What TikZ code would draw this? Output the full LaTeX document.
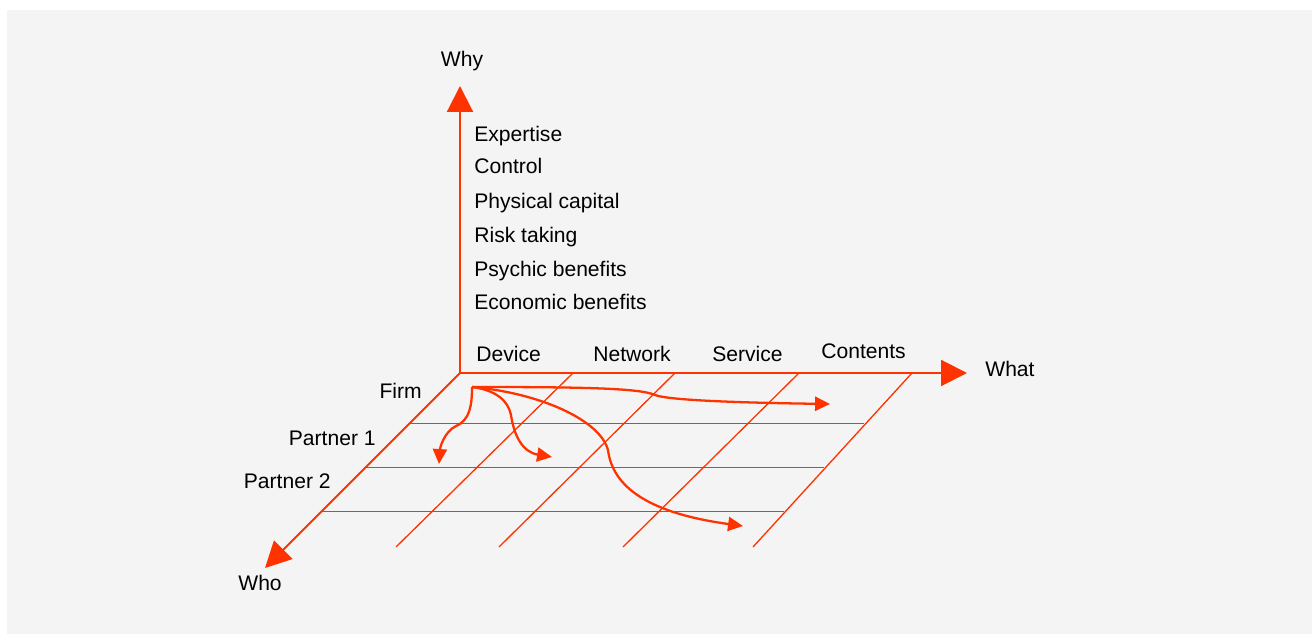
\documentclass[tikz,border=0pt]{standalone}
\usepackage{fontspec}
\setmainfont{Liberation Sans}
\usepackage{xcolor}
\usetikzlibrary{arrows.meta}
\definecolor{axisRed}{RGB}{255, 51, 0}
\definecolor{panelGray}{RGB}{244, 244, 244}

\begin{document}
\begin{tikzpicture}[x=0.02cm, y=-0.02cm, font=\fontsize{12}{14}\selectfont,
    axis/.style={draw=axisRed, line width=1.2pt, -{Triangle[length=14.7pt, width=14.7pt]}},
    path/.style={draw=axisRed, line width=1.3pt, -{Triangle[length=8.5pt, width=8pt]}},
    floorline/.style={draw=axisRed, line width=0.75pt},
    label/.style={inner sep=0pt, anchor=base west}]
    % Background panel
    \useasboundingbox (0,0) rectangle (1316,634);
    \fill[white] (0,0) rectangle (1316,634);
    \fill[panelGray] (7,10) rectangle (1312,634);

    % Axes
    \coordinate (O) at (460,373);
    \coordinate (whyTip) at (460,86);
    \coordinate (whatTip) at (967,373);
    \coordinate (whoTip) at (265,568);
    \node[inner sep=0pt, anchor=base] (why) at (462,67) {Why};
    \node[label] (what) at (985,377) {What};
    \node[label] (who) at (238,591) {Who};

    % Grid on the floor
    \draw[floorline] (410,423.5) -- (864,423.5);
    \draw[floorline] (366,467.5) -- (824,467.5);
    \draw[floorline] (322,511.5) -- (784,511.5);
    \draw[floorline] (573,373) -- (396,547);
    \draw[floorline] (675,373) -- (499,547);
    \draw[floorline] (799,373) -- (623,547);
    \draw[floorline] (912,373) -- (753,547);

    \draw[axis] (O) -- (whyTip);
    \draw[axis] (O) -- (whatTip);
    \draw[axis] (O) -- (whoTip);

    % Why labels
    \node[label] (expertise) at (474,142) {Expertise};
    \node[label] (control) at (474,174) {Control};
    \node[label] (physical) at (474,209) {Physical capital};
    \node[label] (risk) at (474,243) {Risk taking};
    \node[label] (psychic) at (474,277) {Psychic benefits};
    \node[label] (economic) at (474,310) {Economic benefits};

    % What labels
    \node[label] (device) at (476,362) {Device};
    \node[label] (network) at (593,362) {Network};
    \node[label] (service) at (712,362) {Service};
    \node[label] (contents) at (821,359) {Contents};

    % Who labels
    \node[label, anchor=base east] (firm) at (422,399) {Firm};
    \node[label, anchor=base east] (partnerA) at (376,446) {Partner 1};
    \node[label, anchor=base east] (partnerB) at (331,489) {Partner 2};

    % Paths from the firm
    \coordinate (start) at (472,387);
    \coordinate (endA) at (830,404);
    \coordinate (endB) at (439,464);
    \coordinate (endC) at (552,457);
    \coordinate (endD) at (743,526);
    \draw[path] (start) .. controls (580,387) and (640,388) .. (655,395) .. controls (670,401) and (760,403) .. (endA);
    \draw[path] (start) .. controls (472,405) and (470,420) .. (456,426) .. controls (444,432) and (440,448) .. (endB);
    \draw[path] (start) .. controls (495,390) and (508,400) .. (511,415) .. controls (514,435) and (522,452) .. (endC);
    \draw[path] (start) .. controls (540,393) and (600,420) .. (608,450) .. controls (612,482) and (640,512) .. (endD);
\end{tikzpicture}
\end{document}
